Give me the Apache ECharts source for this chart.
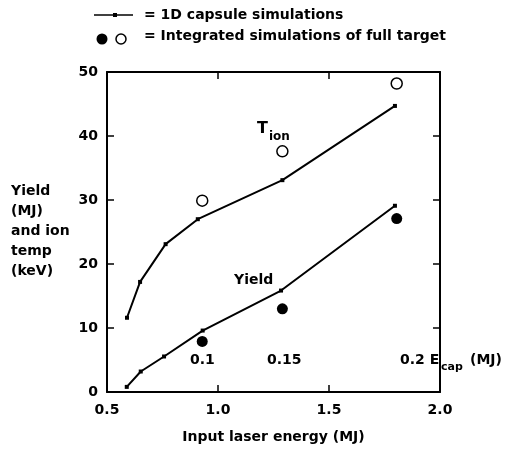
<!DOCTYPE html>
<html>
<head>
<meta charset="utf-8">
<script src="https://cdn.jsdelivr.net/npm/echarts@6/dist/echarts.min.js"></script>
<style>
  html, body { margin: 0; padding: 0; background: #fff; }
  #main { width: 507px; height: 449px; }
</style>
</head>
<body>
<div id="main"></div>
<script>
// 1D capsule simulations (lines with small markers)
var tionX = [0.59, 0.649, 0.764, 0.909, 1.29, 1.797];
var tionY = [11.6, 17.2, 23.1, 27.0, 33.1, 44.7];
var yieldX = [0.589, 0.652, 0.757, 0.931, 1.284, 1.797];
var yieldY = [0.8, 3.2, 5.55, 9.6, 15.85, 29.1];

// integrated simulations of full target
var intX = [0.929, 1.29, 1.805];
var intYield = [7.9, 13.0, 27.1];   // filled circles
var intTion = [29.9, 37.6, 48.2];   // open circles

var xTicks = [0.5, 1.0, 1.5, 2.0];
var yTicks = [0, 10, 20, 30, 40, 50];

var font = 'DejaVu Sans';

function pairs(xs, ys) {
    var out = [];
    for (var i = 0; i < xs.length; i++) {
        out.push([xs[i], ys[i]]);
    }
    return out;
}

var chart = echarts.init(document.getElementById('main'));

var axisLine = { show: true, onZero: false, lineStyle: { color: '#000', width: 2 } };
var tickIn = { show: true, inside: true, length: 7, lineStyle: { color: '#000', width: 1.5 } };

var option = {
    backgroundColor: '#fff',
    animation: false,
    grid: { left: 107, right: 67, top: 72, bottom: 57 },
    xAxis: [{
        type: 'value', min: xTicks[0], max: xTicks[xTicks.length - 1], interval: 0.5,
        position: 'bottom',
        axisLine: axisLine, axisTick: tickIn, splitLine: { show: false },
        axisLabel: {
            color: '#000', fontFamily: font, fontWeight: 'bold', fontSize: 14, margin: 11,
            formatter: function (v) { return v.toFixed(1); }
        },
        name: 'Input laser energy (MJ)', nameLocation: 'middle', nameGap: 38,
        nameTextStyle: { color: '#000', fontFamily: font, fontWeight: 'bold', fontSize: 14 }
    }, {
        type: 'value', min: xTicks[0], max: xTicks[xTicks.length - 1], interval: 0.5,
        position: 'top',
        axisLine: axisLine, axisTick: tickIn, splitLine: { show: false },
        axisLabel: { show: false }
    }],
    yAxis: [{
        type: 'value', min: yTicks[0], max: yTicks[yTicks.length - 1], interval: 10,
        position: 'left',
        axisLine: axisLine, axisTick: tickIn, splitLine: { show: false },
        axisLabel: { color: '#000', fontFamily: font, fontWeight: 'bold', fontSize: 14, margin: 9 }
    }, {
        type: 'value', min: yTicks[0], max: yTicks[yTicks.length - 1], interval: 10,
        position: 'right',
        axisLine: axisLine, axisTick: tickIn, splitLine: { show: false },
        axisLabel: { show: false }
    }],
    series: [{
        name: 'Tion 1D', type: 'line', data: pairs(tionX, tionY),
        symbol: 'rect', symbolSize: 4, showAllSymbol: true,
        itemStyle: { color: '#000' }, lineStyle: { color: '#000', width: 2 }
    }, {
        name: 'Yield 1D', type: 'line', data: pairs(yieldX, yieldY),
        symbol: 'rect', symbolSize: 4, showAllSymbol: true,
        itemStyle: { color: '#000' }, lineStyle: { color: '#000', width: 2 }
    }, {
        name: 'Yield integrated', type: 'scatter', data: pairs(intX, intYield),
        symbol: 'circle', symbolSize: 11,
        itemStyle: { color: '#000', opacity: 1 }
    }, {
        name: 'Tion integrated', type: 'scatter', data: pairs(intX, intTion),
        symbol: 'circle', symbolSize: 11,
        itemStyle: { color: '#fff', borderColor: '#000', borderWidth: 1.5, opacity: 1 }
    }],
    graphic: [
        // legend
        { type: 'line', shape: { x1: 94, y1: 15, x2: 133, y2: 15 }, style: { stroke: '#000', lineWidth: 1.5 } },
        { type: 'rect', shape: { x: 113, y: 13, width: 4, height: 4 }, style: { fill: '#000' } },
        { type: 'text', left: 144, top: 8, style: { text: '= 1D capsule simulations', fill: '#000', font: 'bold 14px "DejaVu Sans"' } },
        { type: 'circle', shape: { cx: 102, cy: 39, r: 5.5 }, style: { fill: '#000' } },
        { type: 'circle', shape: { cx: 121, cy: 39, r: 5 }, style: { fill: '#fff', stroke: '#000', lineWidth: 1.5 } },
        { type: 'text', left: 144, top: 29, style: { text: '= Integrated simulations of full target', fill: '#000', font: 'bold 14px "DejaVu Sans"' } },
        // y axis title
        { type: 'text', left: 11, top: 181, style: { text: 'Yield\n(MJ)\nand ion\ntemp\n(keV)', fill: '#000', font: 'bold 14px "DejaVu Sans"', lineHeight: 20 } },
        // curve labels
        { type: 'text', left: 257, top: 121, style: { text: 'T', fill: '#000', font: 'bold 16px "DejaVu Sans"' } },
        { type: 'text', left: 269, top: 131, style: { text: 'ion', fill: '#000', font: 'bold 12px "DejaVu Sans"' } },
        { type: 'text', left: 234, top: 273, style: { text: 'Yield', fill: '#000', font: 'bold 14px "DejaVu Sans"' } },
        // E_cap labels
        { type: 'text', left: 190, top: 353, style: { text: '0.1', fill: '#000', font: 'bold 14px "DejaVu Sans"' } },
        { type: 'text', left: 267, top: 353, style: { text: '0.15', fill: '#000', font: 'bold 14px "DejaVu Sans"' } },
        { type: 'text', left: 400, top: 353, style: { text: '0.2 E', fill: '#000', font: 'bold 14px "DejaVu Sans"' } },
        { type: 'text', left: 441, top: 362, style: { text: 'cap', fill: '#000', font: 'bold 11px "DejaVu Sans"' } },
        { type: 'text', left: 470, top: 353, style: { text: '(MJ)', fill: '#000', font: 'bold 14px "DejaVu Sans"' } }
    ]
};

chart.setOption(option);
</script>
</body>
</html>
